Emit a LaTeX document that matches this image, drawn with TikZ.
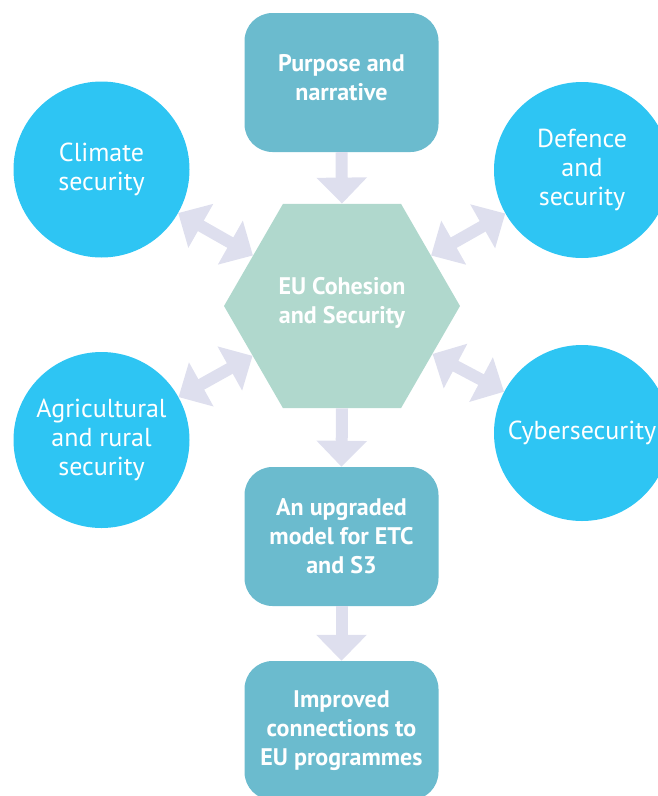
\documentclass[tikz,border=0pt]{standalone}
\usepackage{fontspec}
\setmainfont{PT Sans}
\usetikzlibrary{shapes.geometric,arrows.meta}
\definecolor{boxc}{HTML}{6BBBCE}
\definecolor{hexc}{HTML}{B0D8CD}
\definecolor{circc}{HTML}{2EC5F3}
\definecolor{arrc}{HTML}{DEDFEE}
\tikzset{
  boldtext/.style={align=center, text=white, font=\bfseries\fontsize{24}{29}\selectfont},
  stepbox/.style={fill=boxc, draw=none, rounded corners=28pt, minimum width=194pt, minimum height=139pt, inner sep=0pt, boldtext},
  hexbox/.style={regular polygon, regular polygon sides=6, fill=hexc, draw=none, minimum size=236pt, inner sep=0pt, boldtext},
  topic/.style={circle, fill=circc, draw=none, minimum size=176pt, inner sep=0pt, align=center, text=white, font=\fontsize{26}{29}\selectfont},
  fat/.style={draw=arrc, line width=12pt, -{Triangle[width=49pt,length=26pt]}},
  fatboth/.style={draw=arrc, line width=12pt, {Triangle[width=49pt,length=26pt]}-{Triangle[width=49pt,length=26pt]}}
}
\begin{document}
\begin{tikzpicture}[x=1pt,y=-1pt]
\useasboundingbox (0,0) rectangle (657,796);
\node[stepbox] (purpose) at (341.5,82.5) {};
\node[boldtext] (purposetext) at (341.5,77.5) {Purpose and\\narrative};
\node[hexbox] (hex) at (342,306) {};
\node[boldtext] (hextext) at (342,303) {EU Cohesion\\and Security};
\node[stepbox] (model) at (341.5,536.5) {An upgraded\\model for ETC\\and S3};
\node[stepbox] (conn) at (341.5,730.5) {Improved\\connections to\\EU programmes};
\node[topic] (clim) at (101.5,169.5) {Climate\\security};
\node[topic] (def) at (582,170) {Defence\\and\\security};
\node[topic] (agri) at (101.5,440) {Agricultural\\and rural\\security};
\node[topic] (cyber) at (582,433) {Cybersecurity};
\draw[fat] (purpose.south) -- (hex.north);
\draw[fat] (hex.south) -- (model.north);
\draw[fat] (model.south) -- (conn.north);
\draw[fatboth] (clim) -- (hex);
\draw[fatboth] (def) -- (hex);
\draw[fatboth] (agri) -- (hex);
\draw[fatboth] (cyber) -- (hex);
\end{tikzpicture}
\end{document}
